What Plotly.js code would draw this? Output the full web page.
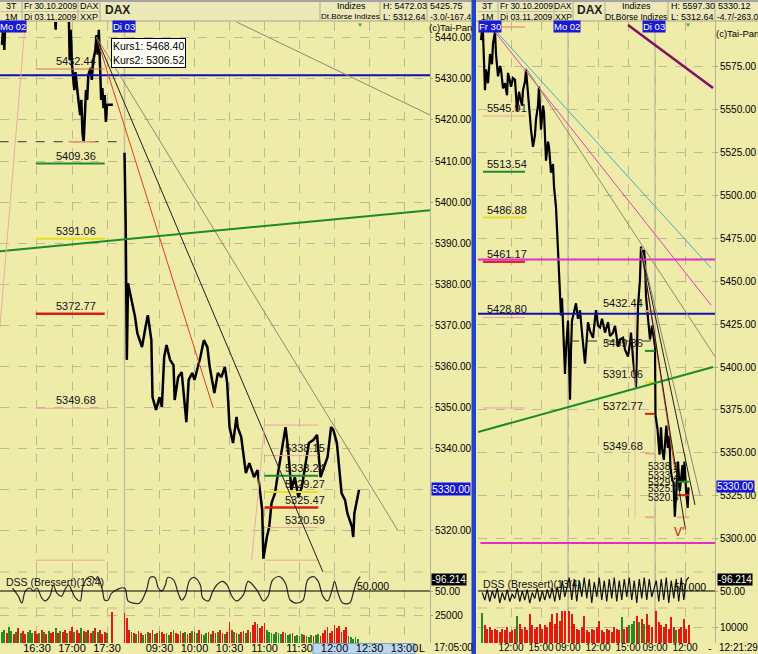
<!DOCTYPE html>
<html><head><meta charset="utf-8">
<script src="https://cdn.plot.ly/plotly-3.0.1.min.js"></script>
<style>html,body{margin:0;padding:0;background:#efeba9;}#chart{width:758px;height:654px;}</style>
</head><body><div id="chart"></div>
<script>
// ---------------- DATA ----------------
// Left panel (1-minute, Mo 02.11 / Di 03.11.2009)
const leftMoTimes = ['16:00','16:01','16:02','16:03','16:20','16:45','16:46','16:47','16:57','16:58','16:59','17:00','17:02','17:03','17:05','17:07','17:08','17:09','17:10','17:11','17:12','17:13','17:14','17:16','17:17','17:18','17:20','17:21','17:22','17:23','17:24','17:25','17:26','17:27','17:28','17:29','17:30','17:35'];
const leftMoPrices = [5438.3,5442.4,5437.1,5446,5452,5448,5442,5450,5450,5434.6,5442,5433.4,5427.3,5431.7,5426.1,5421.2,5424.9,5416.8,5414.6,5421.2,5427.3,5424.9,5431,5432.7,5429.8,5434.1,5437.1,5440.7,5435.9,5442,5429.8,5424.9,5427.8,5422.9,5426.1,5419.5,5423.7,5423.7];
const leftDiTimes = ['09:00','09:01','09:02','09:03','09:06','09:09','09:11','09:15','09:18','09:20','09:23','09:24','09:27','09:30','09:32','09:34','09:36','09:39','09:42','09:43','09:46','09:49','09:53','09:55','09:58','10:00','10:05','10:08','10:11','10:13','10:17','10:20','10:23','10:26','10:28','10:30','10:33','10:36','10:37','10:40','10:44','10:47','10:51','10:54','10:58','10:59','11:02','11:04','11:06','11:09','11:11','11:15','11:18','11:20','11:23','11:26','11:29','11:32','11:35','11:38','11:42','11:45','11:48','11:51','11:54','11:57','11:59','12:02','12:06','12:09','12:11','12:15','12:16','12:17','12:19','12:21'];
const leftDiPrices = [5412,5395,5361.5,5380.2,5376.1,5372,5368,5364.6,5369.5,5372.4,5366.3,5352.4,5349.3,5352.4,5350,5362.2,5365.1,5361.5,5360.2,5351.7,5357.3,5358.5,5346.3,5356.6,5358.3,5356.6,5362.2,5366.3,5364.6,5359.8,5353.4,5358.3,5357.3,5359.8,5355.9,5345.1,5341.2,5347.6,5345.1,5342.7,5333.9,5336.3,5332.9,5334.6,5324.9,5313,5318.3,5320.7,5326.6,5329,5332.9,5339.5,5345.1,5340.2,5329.8,5332.9,5328,5330.5,5336.3,5341.2,5342,5343.2,5332.9,5335.4,5337.8,5345.1,5344.4,5341.2,5329,5327.3,5324.1,5320.7,5318.3,5324.1,5326.6,5329.8];
const leftDssTimes = ['Mo 16:09','Mo 16:14','Mo 16:17','Mo 16:20','Mo 16:24','Mo 16:27','Mo 16:30','Mo 16:34','Mo 16:37','Mo 16:41','Mo 16:44','Mo 16:47','Mo 16:51','Mo 16:54','Mo 16:57','Mo 17:00','Mo 17:03','Mo 17:07','Mo 17:09','Mo 17:13','Mo 17:17','Mo 17:20','Mo 17:22','Mo 17:26','Mo 17:28','Mo 17:31','Mo 17:34',
 'Di 09:00','Di 09:03','Di 09:07','Di 09:13','Di 09:19','Di 09:22','Di 09:26','Di 09:29','Di 09:32','Di 09:35','Di 09:37','Di 09:42','Di 09:46','Di 09:49','Di 09:52','Di 09:56','Di 10:00','Di 10:05','Di 10:07','Di 10:12','Di 10:15','Di 10:19','Di 10:24','Di 10:28','Di 10:32','Di 10:36','Di 10:42','Di 10:46','Di 10:54','Di 10:59','Di 11:03','Di 11:07','Di 11:13','Di 11:18','Di 11:22','Di 11:28','Di 11:33','Di 11:37','Di 11:42','Di 11:46','Di 11:50','Di 11:54','Di 11:58','Di 12:00','Di 12:03','Di 12:07','Di 12:13','Di 12:16','Di 12:19','Di 12:22'];
const leftDssValues = [60,33,10,50,60,50,60,27,17,33,70,43,33,55,70,50,27,17,60,93,98,87,98,55,20,20,43,
 60,17,10,10,55,95,95,60,50,70,95,87,43,20,33,87,95,70,27,17,43,70,82,70,33,17,38,82,50,17,33,87,98,75,20,10,20,87,98,82,33,17,55,82,43,10,10,43,82,98];
// volume, 2-minute bars, thousands
const leftVolMo = [10,12,9,14,11,8,10,13,9,11,8,10,12,9,11,8,9,12,10,8,11,9,10,13,9,11,10,12,9,11,14,10,12,9,13,11,10,12,9,11,13,10,12,8,10,9,0,28];
const leftVolMoDir = 'ggrggrgrgrrgggrrgrgrgrrgrgrrgrrgrrgrgrrgrgrrrgg';
const leftVolDi = [27,22,12,10,9, 8,11,9,7,8,10,9,12,8,9, 11,10,8,9,7,10,12,9,8,11, 9,10,8,9,11,10,9,12,8,7, 9,10,8,11,9,10,12,9,8,10, 19,12,10,9,8,10,11,9,12,10, 16,19,17,13,15,18,12,10,9,8, 10,9,8,10,9,7,8,9,6,7, 6,8,7,6,5,7,6,7,8,6, 9,12,14,9,11,16,13,15,10,12, 14,6,5,4,5,4];
const leftVolDiDir = 'rrrgrgrrgrgrrgrgrrggrgrrgrgrrgrgrrggrgrrgrrgrrrgrgrrgrgrrrrrrgggggggrgggrggggrgggrggrrrrrrrrrrrrggggg';
const leftTickTimes = ['Mo 16:30','Mo 17:00','Mo 17:30','Di 09:30','Di 10:00','Di 10:30','Di 11:00','Di 11:30','Di 12:00','Di 12:30','Di 13:00'];
const leftTickLabels = ['16:30','17:00','17:30','09:30','10:00','10:30','11:00','11:30','12:00','12:30','13:00'];
const leftPriceTicks = [5320,5330,5340,5350,5360,5370,5380,5390,5400,5410,5420,5430,5440];
const leftLastPrice = 5330;
const leftFibLevels = [5432.44,5409.36,5391.06,5372.77,5349.68,5312.64];
const leftBoxLevels = [5345.6,5338.15,5333.24,5329.27,5325.47,5320.59,5312.64];

// Right panel (3-minute, Fr 30.10 / Mo 02.11 / Di 03.11.2009)
const rightFrTimes = ['09:00','09:06','09:12','09:18','09:24','09:30','09:42','09:54','10:06','10:12','10:24','10:30','10:42','10:54','11:00','11:12','11:24','11:36','11:42','11:54','12:00','12:12','12:24','12:36','12:48','12:54','13:06','13:12','13:24','13:30','13:42','13:54','14:00','14:12','14:24','14:30','14:42','14:48','15:00','15:12','15:18','15:30','15:42','15:48','16:00','16:12','16:18','16:30','16:42','16:54','17:00','17:06','17:12','17:24','17:30'];
const rightFrPrices = [5590,5596,5594,5578,5561,5573,5565,5582,5576,5588,5595,5582,5569,5575,5573,5562,5565,5558,5571,5566,5563,5568,5567,5549,5560,5557,5552,5561,5566,5573,5557,5545,5538,5528,5535,5544,5552,5563,5538,5552,5548,5520,5531,5528,5513,5518,5505,5493,5470,5439,5430,5440,5425,5396,5410];
const rightMoTimes = ['09:00','09:06','09:12','09:18','09:24','09:36','09:48','10:00','10:12','10:24','10:30','10:42','10:54','11:00','11:12','11:30','11:42','11:48','12:00','12:12','12:24','12:42','12:54','13:00','13:12','13:30','13:42','14:00','14:12','14:30','14:42','15:00','15:12','15:18','15:30','15:42','15:48','16:00','16:12','16:18','16:24','16:36','16:42','16:48','17:00','17:12','17:24'];
const rightMoPrices = [5427,5405,5381,5410,5427,5432,5437,5428,5433,5420,5412,5402,5418,5426,5421,5417,5428,5433,5424,5423,5428,5420,5424,5426,5418,5420,5424,5412,5416,5417,5410,5406,5414,5420,5405,5392,5388,5435,5451,5470,5465,5468,5462,5441,5427,5416,5424];
const rightDiTimes = ['09:00','09:03','09:15','09:27','09:36','09:43','09:53','10:08','10:17','10:26','10:33','10:44','10:51','10:59','11:06','11:18','11:29','11:45','11:48','11:57','12:06','12:16','12:21'];
const rightDiPrices = [5412,5372,5364,5349,5365,5352,5346,5366,5353,5360,5341,5334,5333,5313,5327,5345,5328,5343,5333,5345,5329,5318,5330];
// DSS and volume on 15-minute steps (volume in thousands)
const rightDssFr = [45,20,55,15,50,25,60,10,45,20,55,15,40,25,60,15,50,20,55,10,45,25,60,15,50,20,55,25,60,15,65,20,85,30];
const rightDssMo = [95,20,90,15,85,30,95,25,90,10,80,30,95,20,85,15,90,25,95,15,85,20,90,30,95,20,85,10,90,25,95,20,90,30];
const rightDssDi = [85,15,90,20,95,10,85,25,90,15,95,20,85,96];
const rightVolFr = [19,11,9,10,8,9,8,7,9,8,10,7,8,9,17,12,9,10,8,18,11,9,10,12,9,11,10,13,18,12,19,14,20,20];
const rightVolMo = [20,18,12,9,8,10,17,8,7,9,8,10,14,8,7,9,8,7,10,9,8,16,9,10,11,12,14,17,13,15,12,18,11,10];
const rightVolDi = [20,13,11,10,12,9,16,10,8,9,10,15,9,11];
const rightVolFrDir = 'grrrrrrrrrrrrrgrrrrrrrrrrrrrrrrrrr';
const rightVolMoDir = 'rrrrrrrrrrrrrrrrrrrrrgrrgggrgrgrrr';
const rightVolDiDir = 'rrrrrrrrgrrrrr';
const rightTickTimes = ['Fr 12:00','Fr 15:00','Mo 09:00','Mo 12:00','Mo 15:00','Di 09:00','Di 12:00'];
const rightTickLabels = ['12:00','15:00','09:00','12:00','15:00','09:00','12:00'];
const rightPriceTicks = [5300,5325,5350,5375,5400,5425,5450,5475,5500,5525,5550,5575];
const rightFibLevels = [5545.91,5513.54,5486.88,5461.17,5428.80,5376.2];
const rightDiFibLevels = [5432.44,5409.36,5391.06,5372.77,5349.68,5312.64];
const rightClusterLabels = [5338.1,5333.2,5329.2,5325.4,5320.5];
const rightClusterLines = [5333.24,5325.47,5312.64];

// ---------------- HELPERS ----------------
const W = 758, H = 654;
const px = x => x / W, py = y => 1 - y / H;
function lx(s){const p=s.split(' ');const hm=p[1].split(':');return (p[0]==='Di'?525:0)+(+hm[0]-9)*60+(+hm[1]);}
function rx(s){const p=s.split(' ');const hm=p[1].split(':');const d={Fr:0,Mo:1,Di:2}[p[0]];return d*8.7+(+hm[0]-9)+(+hm[1])/60;}
const FONT = 'Liberation Sans, Arial, sans-serif';
const BG = '#efeba9', GRID = '#bdb995';
const RED = '#e41a10', GREEN = '#2a8a22';

const traces = [];
traces.push({x: leftMoTimes.map(t=>lx('Mo '+t)), y: leftMoPrices, xaxis:'x', yaxis:'y', mode:'lines', line:{color:'#000', width:2.5}, hoverinfo:'skip'});
traces.push({x: leftDiTimes.map(t=>lx('Di '+t)), y: leftDiPrices, xaxis:'x', yaxis:'y', mode:'lines', line:{color:'#000', width:2.5}, hoverinfo:'skip'});
traces.push({x: leftDssTimes.map(lx), y: leftDssValues, xaxis:'x', yaxis:'y2', mode:'lines', line:{color:'#2a2a2a', width:1.2, shape:'spline'}, hoverinfo:'skip'});
const lvX = [], lvY = [], lvC = [];
leftVolMo.forEach((v,i)=>{lvX.push(lx('Mo 16:00')+2*i); lvY.push(v); lvC.push(leftVolMoDir[i]==='g'?GREEN:RED);});
leftVolDi.forEach((v,i)=>{lvX.push(lx('Di 09:00')+2*i); lvY.push(v); lvC.push(leftVolDiDir[i]==='g'?GREEN:RED);});
traces.push({type:'bar', x: lvX, y: lvY, xaxis:'x', yaxis:'y3', width:1.5, marker:{color: lvC, line:{width:0}}, hoverinfo:'skip'});
const rpX = [].concat(rightFrTimes.map(t=>rx('Fr '+t)), rightMoTimes.map(t=>rx('Mo '+t)), rightDiTimes.map(t=>rx('Di '+t)));
const rpY = [].concat(rightFrPrices, rightMoPrices, rightDiPrices);
traces.push({x: rpX, y: rpY, xaxis:'x2', yaxis:'y4', mode:'lines', line:{color:'#000', width:2.2}, hoverinfo:'skip'});
const rdX = [], rdY = [], rvY = [], rvC = [];
[['Fr',rightDssFr,rightVolFr,rightVolFrDir],['Mo',rightDssMo,rightVolMo,rightVolMoDir],['Di',rightDssDi,rightVolDi,rightVolDiDir]].forEach(([d,ds,vs,dir])=>{
  ds.forEach((v,i)=>{rdX.push(rx(d+' 09:00')+0.25*i+0.125); rdY.push(v); rvY.push(vs[i]); rvC.push(dir[i]==='g'?GREEN:RED);});
});
traces.push({x: rdX, y: rdY, xaxis:'x2', yaxis:'y5', mode:'lines', line:{color:'#111', width:1.2}, hoverinfo:'skip'});
traces.push({type:'bar', x: rdX, y: rvY, xaxis:'x2', yaxis:'y6', width:0.22, marker:{color: rvC, line:{width:0}}, hoverinfo:'skip'});

// ---------------- SHAPES ----------------
const shapes = [];
const seg = (xr, yr, x0, y0, x1, y1, color, width, dash, layer) => shapes.push({type:'line', xref:xr, yref:yr, x0, y0, x1, y1, line:{color, width, dash: dash||'solid'}, layer: layer||'above'});
const rect = (x0,y0,x1,y1,fill,lc,lw,layer) => shapes.push({type:'rect', xref:'paper', yref:'paper', x0:px(x0), x1:px(x1), y0:py(y1), y1:py(y0), fillcolor:fill, line:{color:lc||fill, width:lw||0}, layer:layer||'above'});

seg('x','paper', lx('Di 09:00'), py(643), lx('Di 09:00'), py(22), '#c2be9e', 1.5, 'solid', 'below');
seg('x2','paper', rx('Mo 09:00'), py(643), rx('Mo 09:00'), py(22), '#c2be9e', 1.5, 'solid', 'below');
seg('x2','paper', rx('Di 09:00'), py(643), rx('Di 09:00'), py(22), '#c2be9e', 1.5, 'solid', 'below');
[572, 608].forEach(yy => { seg('paper','paper', 0, py(yy), px(430), py(yy), GRID, 1, 'dash', 'below'); seg('paper','paper', px(478), py(yy), px(715), py(yy), GRID, 1, 'dash', 'below'); });

const FIBC = ['#e07050','#1f8a2a','#e6e020','#d81e10','#eaa898','#eaa898'];
const FIBW = [1,2,2,2.5,1,1];
leftFibLevels.forEach((v,i)=>seg('x','y', lx('Mo 16:29'), v, lx('Mo 17:28'), v, FIBC[i], FIBW[i]));
const BOXC = ['#eaa898','#eaa898','#1f8a2a','#e6e020','#d81e10','#eaa898','#eaa898'];
const BOXW = [1,1,2,2,2.5,1,1];
leftBoxLevels.forEach((v,i)=>seg('x','y', lx('Di 11:00'), v, lx('Di 11:46'), v, BOXC[i], BOXW[i]));
seg('x','y', lx('Mo 15:58'), 5414.7, lx('Di 09:00'), 5414.7, '#333', 1, 'dash');
seg('x','y', lx('Mo 16:57'), 5414.7, lx('Mo 17:20'), 5414.7, '#e89080', 1.5);
seg('x domain','y', 0, 5430.9, 1, 5430.9, '#1010b0', 2);
[
 [['Mo 17:21',5440.2],['Di 10:16',5349.8],'#e04020',1],
 [['Mo 17:21',5440.2],['Di 11:50',5309.8],'#202020',1],
 [['Mo 17:21',5440.2],['Di 12:54',5320.0],'#8c8a70',1],
 [['Di 10:36',5443.9],['Di 13:22',5421.2],'#8c8a70',1],
 [['Mo 15:58',5388.0],['Di 13:22',5398.0],'#1a8a2a',2],
 [['Mo 15:58',5368.8],['Mo 16:20',5443.9],'#e8b0a0',1],
 [['Di 10:49',5312.7],['Di 11:00',5345.6],'#e8b0a0',1]
].forEach(t=>seg('x','y', lx(t[0][0]), t[0][1], lx(t[1][0]), t[1][1], t[2], t[3]));
seg('x domain','y2', 0, 50, 1, 50, '#000', 1.2);

const RFC = ['#eaa898','#1f8a2a','#e6e020','#e0204a','#eaa898','#eaa898'];
const RFW = [1,2,2,2.5,1,1];
rightFibLevels.forEach((v,i)=>seg('x2','y4', rx('Fr 09:12'), v, rx('Fr 13:24'), v, RFC[i], RFW[i]));
const RDC = ['#e8a070','#1f8a2a','#e6e020','#d81e10','#eaa898','#eaa898'];
rightDiFibLevels.forEach((v,i)=>seg('x2','y4', rx('Mo 16:42'), v, rx('Mo 17:42'), v, RDC[i], 2));
const RCC = ['#1f8a2a','#d81e10','#eaa898'];
rightClusterLines.forEach((v,i)=>seg('x2','y4', rx('Di 11:12'), v, rx('Di 12:24'), v, RCC[i], 2));
seg('x2','y4', rx('Mo 09:12'), 5415.1, rx('Mo 17:42'), 5415.1, '#333', 1, 'dash');
seg('x2','y4', rx('Fr 10:36'), 5597.7, rx('Fr 13:24'), 5597.7, '#e8a070', 1.5);
seg('x2','y4', rx('Mo 15:42'), 5312, rx('Mo 15:42'), 5436, '#ecb8a8', 1);
seg('x2 domain','y4', 0, 5430.9, 1, 5430.9, '#1010b0', 2);
seg('x2 domain','y4', 0, 5462.5, 1, 5462.5, '#e030c0', 2);
seg('x2 domain','y4', 0.01, 5297.7, 1, 5297.7, '#e030c0', 2);
[
 [['Fr 10:24',5595.9],['Di 14:36',5457.6],'#40b0b8',1],
 [['Fr 10:24',5594.8],['Di 14:36',5436.0],'#e040b0',1],
 [['Fr 13:30',5573.8],['Di 15:06',5405.2],'#8c8a70',1],
 [['Mo 15:00',5598.8],['Di 14:48',5562.2],'#801060',2.5],
 [['Fr 08:42',5362.2],['Di 14:48',5400.0],'#1a8a2a',2],
 [['Mo 16:18',5469.2],['Di 11:00',5340.1],'#e04020',1],
 [['Mo 16:18',5469.2],['Di 12:00',5307.0],'#202020',1],
 [['Mo 16:18',5469.2],['Di 13:00',5319.8],'#202020',1],
 [['Mo 16:18',5469.2],['Di 13:30',5325.6],'#8c8a70',1]
].forEach(t=>seg('x2','y4', rx(t[0][0]), t[0][1], rx(t[1][0]), t[1][1], t[2], t[3]));
seg('x2 domain','y5', 0, 50, 1, 50, '#000', 1.2);

// header & frame
rect(0,0,758,21,'#ece8b8');
rect(0,0,758,2,'#a4a4a4');
seg('paper','paper',0,py(21),1,py(21),'#a8a488',1);
[22,78,100,320,380,427, 498,554,573,605,668,715].forEach(x=>seg('paper','paper',px(x),py(2),px(x),py(21),'#b0ac90',1));
seg('paper','paper',0,py(11.5),px(100),py(11.5),'#c4c0a0',1);
seg('paper','paper',px(478),py(11.5),px(573),py(11.5),'#c4c0a0',1);
rect(471.5,0,476,654,'#2242c8');
rect(313,643.5,415,654,'#bcd8f0','#7c9cc8',1,'below');

// ---------------- ANNOTATIONS ----------------
const ann = [];
const T = (x,y,text,o) => ann.push(Object.assign({xref:'paper', yref:'paper', x:px(x), y:py(y), text, showarrow:false, xanchor:'center', yanchor:'middle', font:{family:FONT, size:10.5, color:'#000'}}, o||{}));
const D = (xr,yr,x,y,text,o) => ann.push(Object.assign({xref:xr, yref:yr, x, y, text, showarrow:false, xanchor:'left', yanchor:'bottom', font:{family:FONT, size:11, color:'#111'}}, o||{}));
const hf = s => ({family:FONT, size:s, color:'#000'});
const hdr = (x,y,text,s,o) => T(x,y,text,Object.assign({font:hf(s), borderpad:0}, o||{}));

hdr(11,6,'3T',9); hdr(11,16.5,'1M',9); hdr(50,6,'Fr 30.10.2009',8.5); hdr(50,16.5,'Di 03.11.2009',8.5);
hdr(89,6,'DAX',9); hdr(89,16.5,'XXP',9); T(117,10,'<b>DAX</b>',{font:{family:FONT,size:12,color:'#222'}});
hdr(351,6,'Indizes',9); hdr(350,16.5,'Dt.Börse Indizes',8);
hdr(382,6,'H: 5472.03',9,{xanchor:'left'}); hdr(382,16.5,'L: 5312.64',9,{xanchor:'left'});
hdr(429,6,'5425.75',9,{xanchor:'left'}); hdr(429,16.5,'-3.0/-167.4',8.5,{xanchor:'left'});
hdr(487,6,'3T',9); hdr(487,16.5,'1M',9); hdr(526,6,'Fr 30.10.2009',8.5); hdr(526,16.5,'Di 03.11.2009',8.5);
hdr(563,6,'DAX',8.5); hdr(563,16.5,'XXP',8.5); T(589,10,'<b>DAX</b>',{font:{family:FONT,size:12,color:'#222'}});
hdr(636,6,'Indizes',9); hdr(636,16.5,'Dt.Börse Indizes',8.5);
hdr(670,6,'H: 5597.30',9,{xanchor:'left'}); hdr(670,16.5,'L: 5312.64',9,{xanchor:'left'});
hdr(717,6,'5330.12',9,{xanchor:'left'}); hdr(716,16.5,'-4.7/-263.0',8.5,{xanchor:'left'});
const dayBox = {font:{family:FONT,size:9.5,color:'#fff'}, bgcolor:'#1a1ad0', borderpad:0};
T(27,26.5,'Mo 02',Object.assign({xanchor:'right'},dayBox));
T(124,26.5,'Di 03',dayBox); T(490,26.5,'Fr 30',dayBox); T(567,26.5,'Mo 02',dayBox); T(654,26.5,'Di 03',dayBox);
T(360,25,'▼',{font:{family:FONT,size:6,color:'#40a040'}, borderpad:0}); T(688,25,'▼',{font:{family:FONT,size:6,color:'#40a040'}, borderpad:0});
T(450,27.5,'(c)Tai-Pan',{font:hf(9.5), borderpad:0}); T(737,33,'(c)Tai-Pan',{font:hf(9.5), borderpad:0});
T(111,38,'Kurs1: 5468.40<br>Kurs2: 5306.52',{xanchor:'left', yanchor:'top', align:'left', bgcolor:'#fffff6', bordercolor:'#000', borderwidth:1, borderpad:1, font:{family:FONT,size:10.5,color:'#000'}});
T(431,489,'5330.00',{xanchor:'left', bgcolor:'#1414d4', borderpad:0, font:{family:FONT,size:10.5,color:'#fff'}});
T(716,486,'5330.00',{xanchor:'left', bgcolor:'#1414d4', borderpad:0, font:{family:FONT,size:10,color:'#fff'}});
T(431,579,'-96.214',{xanchor:'left', bgcolor:'#000', borderpad:0, font:{family:FONT,size:10,color:'#fff'}});
T(717,579,'-96.214',{xanchor:'left', bgcolor:'#000', borderpad:0, font:{family:FONT,size:10,color:'#fff'}});
T(4,582,'DSS (Bressert)(13/4)',{xanchor:'left', font:{family:FONT,size:10.5,color:'#111'}}); T(481,584,'DSS (Bressert)(13/4)',{xanchor:'left', font:{family:FONT,size:10.5,color:'#111'}});
T(355,586,'50.000',{xanchor:'left'}); T(672,587,'50.000',{xanchor:'left'});
T(422,647.5,'L',{borderpad:0}); T(433,647.5,'17:05:00',{xanchor:'left', borderpad:0, font:hf(10)});
T(710,647.5,'-',{borderpad:0}); T(718,647.5,'12:21:29',{xanchor:'left', borderpad:0, font:hf(10)});
leftFibLevels.slice(0,5).forEach(v=>D('x','y', lx('Mo 17:22'), v, v.toFixed(2), {xanchor:'right'}));
leftBoxLevels.slice(1,6).forEach(v=>D('x','y', lx('Di 11:16'), v, v.toFixed(2)));
rightFibLevels.slice(0,5).forEach(v=>D('x2','y4', rx('Fr 09:24'), v, v.toFixed(2)));
rightDiFibLevels.slice(0,5).forEach(v=>D('x2','y4', rx('Mo 16:42'), v, v.toFixed(2), {xanchor:'right'}));
rightClusterLabels.forEach(v=>D('x2','y4', rx('Mo 16:54'), v, v.toFixed(1), {font:{family:FONT,size:10,color:'#111'}, borderpad:0}));
D('x2','y4', rx('Di 11:30'), 5299, "V''", {xanchor:'center', font:{family:FONT,size:12,color:'#d01010'}});

// ---------------- AXES ----------------
const yMain = [py(572), py(22)], yDss = [py(608), py(572)], yVol = [py(643), py(608)];
const xCommon = {showgrid:true, gridcolor:GRID, griddash:'dash', gridwidth:1, zeroline:false, showline:false, ticks:'', tickangle:0, tickfont:{family:FONT,size:11,color:'#000'}, fixedrange:true, tickmode:'array'};
const yCommon = {side:'right', zeroline:false, showline:true, linecolor:'#b4b092', ticks:'outside', ticklen:2, tickcolor:'#999', tickfont:{family:FONT,size:10,color:'#000'}, fixedrange:true, tickmode:'array', gridcolor:GRID, griddash:'dash'};
const layout = {
  width:W, height:H, margin:{l:0,r:0,t:0,b:0}, paper_bgcolor:BG, plot_bgcolor:BG, showlegend:false,
  font:{family:FONT, size:11, color:'#000'}, bargap:0,
  xaxis: Object.assign({}, xCommon, {domain:[0, px(430)], range:[418.3, 786.8], anchor:'free', position:py(640), tickvals:leftTickTimes.map(lx), ticktext:leftTickLabels}),
  yaxis: Object.assign({}, yCommon, {domain:yMain, anchor:'x', range:[5309.76, 5443.9], tickvals:leftPriceTicks, ticktext:leftPriceTicks.map(v=>v===leftLastPrice?'':v.toFixed(2)), showgrid:true}),
  yaxis2: Object.assign({}, yCommon, {domain:yDss, anchor:'x', range:[-6.6, 113.4], tickvals:[50], ticktext:['50.00'], showgrid:false}),
  yaxis3: Object.assign({}, yCommon, {domain:yVol, anchor:'x', range:[0, 31.25], tickvals:[25], ticktext:['25000'], showgrid:true}),
  xaxis2: Object.assign({}, xCommon, {domain:[px(478), px(715)], range:[-0.3, 23.4], anchor:'free', position:py(640), tickvals:rightTickTimes.map(rx), ticktext:rightTickLabels, tickfont:{family:FONT,size:10,color:'#000'}}),
  yaxis4: Object.assign({}, yCommon, {domain:yMain, anchor:'x2', range:[5280.8, 5600.6], tickvals:rightPriceTicks, ticktext:rightPriceTicks.map(v=>v.toFixed(2)), showgrid:true}),
  yaxis5: Object.assign({}, yCommon, {domain:yDss, anchor:'x2', range:[-6.6, 113.4], tickvals:[50], ticktext:['50.00'], showgrid:false}),
  yaxis6: Object.assign({}, yCommon, {domain:yVol, anchor:'x2', range:[0, 21.875], tickvals:[10], ticktext:['10000'], showgrid:true}),
  shapes, annotations: ann
};
Plotly.newPlot('chart', traces, layout, {displayModeBar:false, staticPlot:true});
</script>
</body></html>
